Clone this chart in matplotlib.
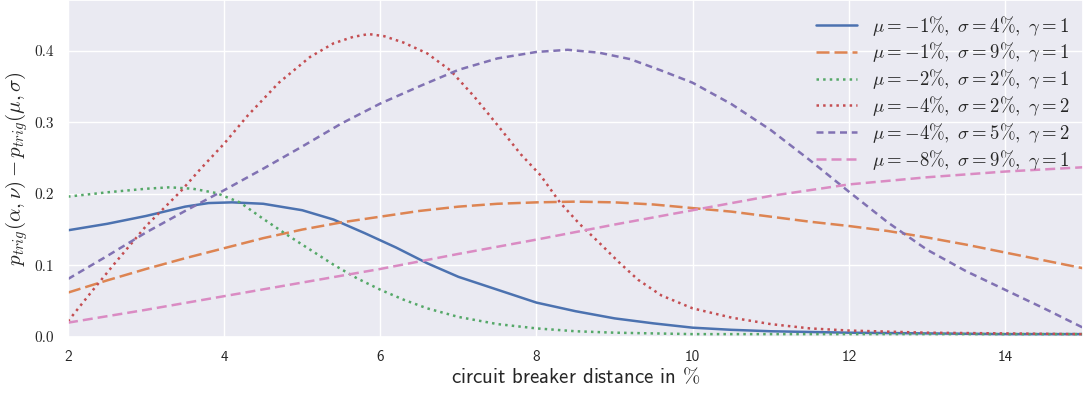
import matplotlib
matplotlib.use('Agg')
import matplotlib.pyplot as plt
import seaborn as sns

sns.set_theme(style='darkgrid')
plt.rcParams['mathtext.fontset'] = 'cm'
plt.rcParams['axes.unicode_minus'] = False

# values
x_blue = [2, 2.5, 3, 3.5, 3.8, 4.1, 4.5, 5, 5.4, 5.8, 6.2, 6.6, 7, 7.5, 8, 8.5, 9, 9.5, 10, 10.5, 11, 12, 13, 14, 15]
y_blue = [0.149, 0.158, 0.169, 0.182, 0.187, 0.188, 0.186, 0.177, 0.164, 0.145, 0.125, 0.103, 0.084, 0.066, 0.048,
          0.036, 0.026, 0.019, 0.013, 0.010, 0.008, 0.006, 0.005, 0.004, 0.004]

x_orange = [2, 2.5, 3, 3.5, 4, 4.5, 5, 5.5, 6, 6.5, 7, 7.5, 8, 8.5, 9, 9.5, 10, 10.5, 11, 11.5, 12, 12.5, 13, 13.5, 14, 14.5, 15]
y_orange = [0.062, 0.079, 0.095, 0.110, 0.124, 0.138, 0.150, 0.160, 0.168, 0.176, 0.182, 0.186, 0.188, 0.189, 0.188,
            0.185, 0.180, 0.175, 0.168, 0.161, 0.155, 0.148, 0.139, 0.129, 0.118, 0.107, 0.096]

x_green = [2, 2.5, 3, 3.3, 3.6, 3.9, 4.2, 4.5, 4.8, 5.1, 5.4, 5.7, 6, 6.3, 6.6, 7, 7.5, 8, 8.5, 9, 10, 11, 12, 13, 14, 15]
y_green = [0.196, 0.202, 0.207, 0.209, 0.207, 0.201, 0.188, 0.165, 0.143, 0.122, 0.101, 0.082, 0.066, 0.052, 0.040,
           0.028, 0.018, 0.012, 0.008, 0.006, 0.004, 0.004, 0.004, 0.004, 0.004, 0.004]

x_red = [2, 2.3, 2.6, 3, 3.44, 3.7, 4, 4.3, 4.7, 5.1, 5.4, 5.65, 5.85, 6.05, 6.3, 6.6, 6.9, 7.2, 7.5, 7.8, 8.05, 8.3,
         8.55, 8.8, 9.05, 9.3, 9.6, 10, 10.5, 11, 11.5, 12, 13, 14, 15]
y_red = [0.022, 0.063, 0.103, 0.155, 0.203, 0.235, 0.270, 0.309, 0.355, 0.391, 0.410, 0.419, 0.423, 0.420, 0.411,
         0.396, 0.372, 0.336, 0.296, 0.255, 0.226, 0.188, 0.158, 0.132, 0.105, 0.080, 0.058, 0.040, 0.027, 0.018,
         0.012, 0.009, 0.006, 0.005, 0.004]

x_purple = [2, 2.5, 3, 3.5, 4, 4.5, 5, 5.5, 6, 6.5, 7, 7.5, 8, 8.4, 8.8, 9.2, 9.6, 10, 10.5, 11, 11.5, 12, 12.5, 13,
            13.5, 14, 14.5, 15]
y_purple = [0.081, 0.113, 0.146, 0.176, 0.205, 0.235, 0.266, 0.298, 0.326, 0.350, 0.373, 0.389, 0.398, 0.401, 0.397,
            0.388, 0.372, 0.355, 0.325, 0.289, 0.247, 0.203, 0.160, 0.122, 0.092, 0.066, 0.040, 0.013]

x_pink = [2, 3, 4, 5, 6, 7, 8, 9, 10, 11, 12, 13, 14, 15]
y_pink = [0.020, 0.038, 0.057, 0.076, 0.095, 0.116, 0.136, 0.157, 0.177, 0.197, 0.213, 0.223, 0.231, 0.237]

labels = [r'$\mu=-1\%,\ \sigma=4\%,\ \gamma=1$',
          r'$\mu=-1\%,\ \sigma=9\%,\ \gamma=1$',
          r'$\mu=-2\%,\ \sigma=2\%,\ \gamma=1$',
          r'$\mu=-4\%,\ \sigma=2\%,\ \gamma=2$',
          r'$\mu=-4\%,\ \sigma=5\%,\ \gamma=2$',
          r'$\mu=-8\%,\ \sigma=9\%,\ \gamma=1$']

xticks = [2, 4, 6, 8, 10, 12, 14]
xtick_labels = ['2', '4', '6', '8', '10', '12', '14']
yticks = [0.0, 0.1, 0.2, 0.3, 0.4]
ytick_labels = ['0.0', '0.1', '0.2', '0.3', '0.4']

pal = sns.color_palette('deep')
lw = 1.8

fig, ax = plt.subplots(figsize=(10.9, 3.94), dpi=100)
fig.subplots_adjust(left=0.0624, right=0.9936, top=0.999, bottom=0.1447)

ax.plot(x_blue, y_blue, color=pal[0], lw=lw, label=labels[0])
ax.plot(x_orange, y_orange, color=pal[1], lw=lw, dashes=(5.2, 2), label=labels[1])
ax.plot(x_green, y_green, color=pal[2], lw=lw, ls=':', label=labels[2])
ax.plot(x_red, y_red, color=pal[3], lw=lw, ls=':', label=labels[3])
ax.plot(x_purple, y_purple, color=pal[4], lw=lw, dashes=(2.8, 1.9), label=labels[4])
ax.plot(x_pink, y_pink, color=pal[6], lw=lw, dashes=(4, 2), label=labels[5])

ax.set_xlim(2, 15)
ax.set_ylim(0, 0.47)
ax.set_xticks(xticks, xtick_labels, fontfamily='cmss10', fontsize=11)
ax.set_yticks(yticks, ytick_labels, fontfamily='cmr10', fontsize=11)
ax.tick_params(axis='y', pad=4)

ax.set_xlabel(r'circuit breaker distance in $\%$', fontfamily='cmss10', fontsize=15, labelpad=2)
ax.set_ylabel(r'$p_{trig}(\alpha,\nu)-p_{trig}(\mu,\sigma)$', fontsize=15, labelpad=3)

ax.legend(loc='upper right', frameon=False, fontsize=13.5, handlelength=2.2, labelspacing=0.15,
          borderaxespad=0.3)

fig.savefig('out.png', dpi=100)
